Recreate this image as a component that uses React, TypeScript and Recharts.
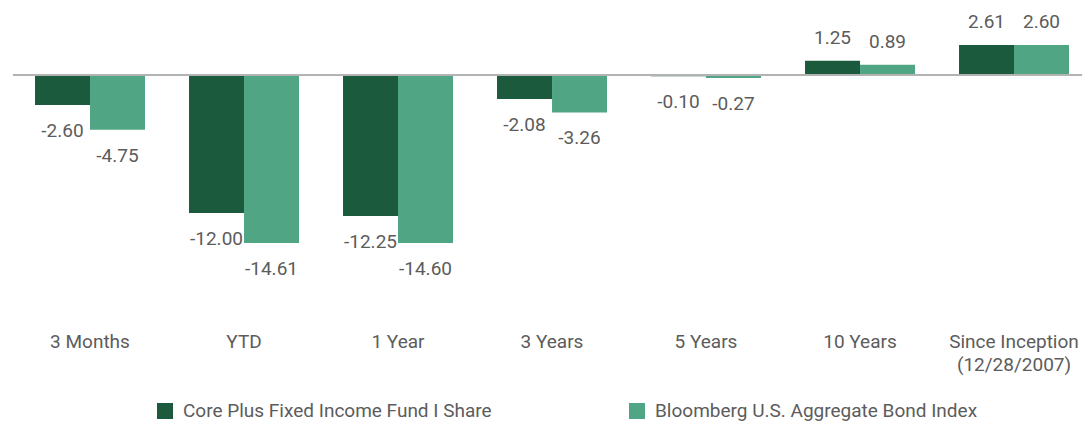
import { Bar, BarChart, LabelList, ReferenceLine, XAxis, YAxis } from 'recharts'

const categories = [
  '3 Months',
  'YTD',
  '1 Year',
  '3 Years',
  '5 Years',
  '10 Years',
  'Since Inception\n(12/28/2007)',
]
const fundReturns = [-2.6, -12.0, -12.25, -2.08, -0.1, 1.25, 2.61]
const indexReturns = [-4.75, -14.61, -14.6, -3.26, -0.27, 0.89, 2.6]
const seriesNames = ['Core Plus Fixed Income Fund I Share', 'Bloomberg U.S. Aggregate Bond Index']

const FUND_COLOR = '#1c5a3d'
const INDEX_COLOR = '#50a684'
const TEXT_COLOR = '#5c5c5c'
const FONT = 'Roboto, "Noto Sans", sans-serif'

const data = categories.map((name, i) => ({
  name,
  fund: fundReturns[i],
  index: indexReturns[i],
}))

// label sits above positive bars and below negative ones
function ValueLabel(props: any) {
  const { x, y, width, height, value } = props
  const cx = Number(x) + Number(width) / 2
  const top = Math.min(Number(y), Number(y) + Number(height))
  const bottom = Math.max(Number(y), Number(y) + Number(height))
  const ty = value >= 0 ? top - 17 : bottom + 32
  return (
    <text x={cx} y={ty} textAnchor="middle" fill={TEXT_COLOR} fontSize={19} fontFamily={FONT}>
      {Number(value).toFixed(2)}
    </text>
  )
}

function CategoryTick(props: any) {
  const { x, y, payload } = props
  const lines = String(payload.value).split('\n')
  return (
    <text x={x} y={y} textAnchor="middle" fill={TEXT_COLOR} fontSize={19} fontFamily={FONT}>
      {lines.map((l, i) => (
        <tspan key={i} x={x} dy={i === 0 ? 43 : 23}>
          {l}
        </tspan>
      ))}
    </text>
  )
}

export default function App() {
  return (
    <div
      style={{
        position: 'absolute',
        left: 0,
        top: 0,
        width: 1082,
        height: 423,
        overflow: 'hidden',
        background: '#fff',
        fontFamily: FONT,
      }}
    >
      <BarChart
        width={1091}
        height={423}
        data={data}
        margin={{ top: 6, right: 0, left: 13, bottom: 88 }}
        barCategoryGap="14.3%"
        barGap={0}
      >
        <XAxis
          dataKey="name"
          height={30}
          tickSize={0}
          tickMargin={0}
          axisLine={false}
          tickLine={false}
          interval={0}
          tick={<CategoryTick />}
        />
        <YAxis hide domain={[-20, 6]} />
        <Bar dataKey="fund" fill={FUND_COLOR} isAnimationActive={false}>
          <LabelList dataKey="fund" content={<ValueLabel />} />
        </Bar>
        <Bar dataKey="index" fill={INDEX_COLOR} isAnimationActive={false}>
          <LabelList dataKey="index" content={<ValueLabel />} />
        </Bar>
        <ReferenceLine y={0} stroke="#b3b3b3" strokeWidth={2} />
      </BarChart>
      {[
        { name: seriesNames[0], color: FUND_COLOR, left: 157 },
        { name: seriesNames[1], color: INDEX_COLOR, left: 629 },
      ].map((item) => (
        <div
          key={item.name}
          style={{
            position: 'absolute',
            left: item.left,
            top: 400,
            display: 'flex',
            alignItems: 'center',
            fontSize: 19,
            lineHeight: '22px',
            color: TEXT_COLOR,
            whiteSpace: 'nowrap',
          }}
        >
          <span
            style={{ display: 'inline-block', width: 16, height: 16, background: item.color, marginRight: 10 }}
          />
          {item.name}
        </div>
      ))}
    </div>
  )
}
